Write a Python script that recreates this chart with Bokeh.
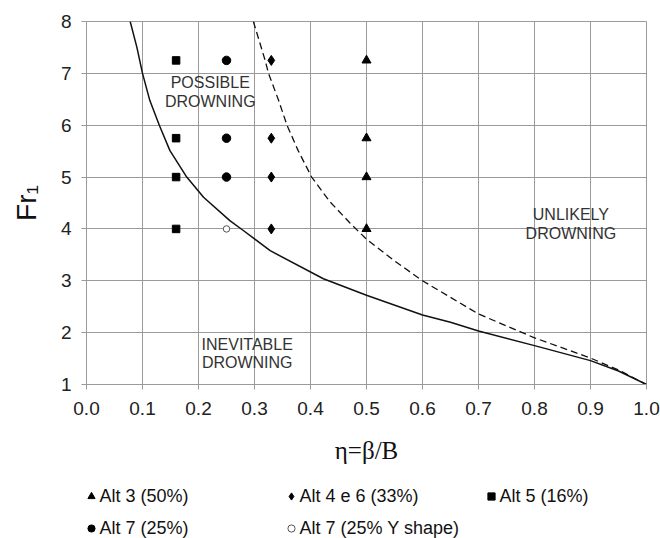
from bokeh.plotting import figure
from bokeh.layouts import column
from bokeh.models import (Legend, LegendItem, SingleIntervalTicker,
                          NumeralTickFormatter, Range1d)
from bokeh.core.properties import value
from bokeh.embed import file_html
from bokeh.resources import INLINE

# ---- data ----
solid_eta = [0.078, 0.090, 0.100, 0.113, 0.130, 0.149, 0.179, 0.209, 0.256,
             0.280, 0.328, 0.423, 0.500, 0.600, 0.650, 0.700, 0.800, 0.900,
             0.950, 1.000]
solid_fr = [8.00, 7.50, 7.00, 6.48, 6.00, 5.51, 5.00, 4.61, 4.16,
            3.97, 3.58, 3.04, 2.72, 2.34, 2.20, 2.03, 1.75, 1.46,
            1.26, 1.00]

dashed_eta = [0.298, 0.319, 0.325, 0.343, 0.358, 0.378, 0.402, 0.435, 0.470,
              0.500, 0.548, 0.600, 0.650, 0.700, 0.800, 0.900, 0.950, 1.000]
dashed_fr = [8.00, 7.25, 7.00, 6.48, 6.00, 5.51, 5.00, 4.52, 4.12,
             3.80, 3.40, 3.00, 2.68, 2.36, 1.90, 1.51, 1.28, 1.00]

alt3_eta = [0.50, 0.50, 0.50, 0.50]
alt3_fr = [7.25, 5.75, 5.00, 4.00]
alt46_eta = [0.33, 0.33, 0.33, 0.33]
alt46_fr = [7.25, 5.75, 5.00, 4.00]
alt5_eta = [0.16, 0.16, 0.16, 0.16]
alt5_fr = [7.25, 5.75, 5.00, 4.00]
alt7_eta = [0.25, 0.25, 0.25]
alt7_fr = [7.25, 5.75, 5.00]
alt7y_eta = [0.25]
alt7y_fr = [4.00]

legend_labels = ["Alt 3 (50%)", "Alt 4 e 6 (33%)", "Alt 5 (16%)",
                 "Alt 7 (25%)", "Alt 7 (25% Y shape)"]

region_text = ["POSSIBLE\nDROWNING", "INEVITABLE\nDROWNING", "UNLIKELY\nDROWNING"]
region_eta = [0.221, 0.287, 0.865]
region_fr = [6.645, 1.60, 4.095]

x_ticks_step = 0.1
y_ticks_step = 1

FONT = "Liberation Sans"
GRID = "#9a9a9a"

series = [
    dict(eta=alt3_eta, fr=alt3_fr, marker="triangle", size=9,
         fill_color="black", line_color="black", line_width=1),
    dict(eta=alt46_eta, fr=alt46_fr, marker="diamond", size=10,
         fill_color="black", line_color="black", line_width=1),
    dict(eta=alt5_eta, fr=alt5_fr, marker="square", size=7.5,
         fill_color="black", line_color="black", line_width=1),
    dict(eta=alt7_eta, fr=alt7_fr, marker="circle", size=8.5,
         fill_color="black", line_color="black", line_width=1),
    dict(eta=alt7y_eta, fr=alt7y_fr, marker="circle", size=6.5,
         fill_color="white", line_color="#555555", line_width=1),
]

# ---------------- main chart ----------------
p = figure(width=660, height=470, output_backend="svg", toolbar_location=None,
           x_range=Range1d(0, 1), y_range=Range1d(1, 8),
           min_border_left=86, min_border_right=14, min_border_top=21,
           min_border_bottom=86)
p.background_fill_color = "white"
p.border_fill_color = "white"
p.outline_line_color = GRID

p.xaxis.ticker = SingleIntervalTicker(interval=x_ticks_step)
p.yaxis.ticker = SingleIntervalTicker(interval=y_ticks_step)
p.xaxis.formatter = NumeralTickFormatter(format="0.0")
p.xgrid.grid_line_color = GRID
p.ygrid.grid_line_color = GRID

for ax in (p.xaxis, p.yaxis):
    ax.axis_line_color = GRID
    ax.major_tick_line_color = GRID
    ax.minor_tick_line_color = None
    ax.major_tick_in = 0
    ax.major_tick_out = 5
    ax.major_label_text_font = FONT
    ax.major_label_text_font_size = "19px"
    ax.major_label_text_color = "#222222"
    ax.axis_label_text_font_style = "normal"
    ax.axis_label_text_color = "#111111"

p.xaxis.major_label_standoff = 12
p.yaxis.major_label_standoff = 10
p.xaxis.axis_label = "η=β/B"
p.xaxis.axis_label_text_font = "Liberation Serif"
p.xaxis.axis_label_text_font_size = "25px"
p.xaxis.axis_label_standoff = 19
p.yaxis.axis_label = "Fr₁"
p.yaxis.axis_label_text_font = FONT
p.yaxis.axis_label_text_font_size = "28px"
p.yaxis.axis_label_standoff = 16

p.line(solid_eta, solid_fr, line_color="#111111", line_width=1.5)
p.line(dashed_eta, dashed_fr, line_color="#111111", line_width=1.3,
       line_dash="7 4")

for s in series:
    p.scatter(s["eta"], s["fr"], marker=s["marker"], size=s["size"],
              fill_color=s["fill_color"], line_color=s["line_color"],
              line_width=s["line_width"])

p.text(x=region_eta, y=region_fr, text=region_text, text_align="center",
       text_baseline="middle", text_font=value(FONT), text_font_size="16px",
       text_color="#333333", text_line_height=1.1)

# ---------------- legend strip ----------------
lg = figure(width=660, height=68, output_backend="svg", toolbar_location=None,
            x_range=Range1d(0, 1), y_range=Range1d(-2, -1),
            x_axis_type=None, y_axis_type=None,
            min_border_left=0, min_border_right=0, min_border_top=0,
            min_border_bottom=0)
lg.outline_line_color = None
lg.xgrid.visible = False
lg.ygrid.visible = False
lg.background_fill_color = "white"
lg.border_fill_color = "white"

legend_renderers = []
for s in series:
    # same series; they fall outside this strip's range, only the legend shows
    legend_renderers.append(
        lg.scatter(s["eta"], s["fr"], marker=s["marker"], size=s["size"],
                   fill_color=s["fill_color"], line_color=s["line_color"],
                   line_width=s["line_width"]))

legend = Legend(
    items=[LegendItem(label=lab, renderers=[r])
           for lab, r in zip(legend_labels, legend_renderers)],
    location=(-4.5, -3), orientation="horizontal", ncols=3,
    glyph_width=18, glyph_height=26, label_standoff=0, label_width=176,
    label_height=26, spacing=6, padding=0, margin=0,
    label_text_font=FONT, label_text_font_size="18px",
    label_text_color="#111111",
    border_line_color=None, background_fill_alpha=0,
)
lg.add_layout(legend)

layout = column(p, lg, spacing=0)
open("out.html", "w").write(file_html(layout, INLINE))
